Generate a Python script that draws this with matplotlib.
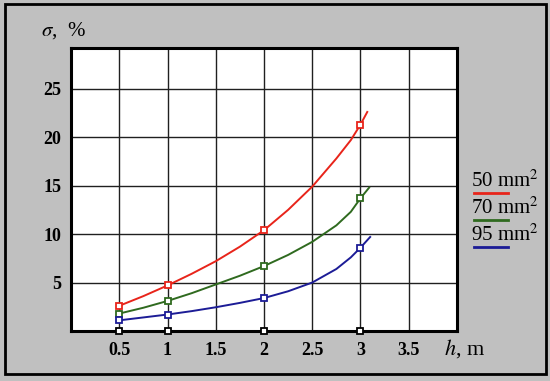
#!/usr/bin/env python3
"""Relative error sigma vs height h for three conductor cross-sections."""

import matplotlib
matplotlib.use("Agg")
import matplotlib.pyplot as plt
from matplotlib.patches import Rectangle

# ------------------------------------------------------------------ data
# measured points (square markers)
h_pts = [0.5, 1.0, 2.0, 3.0]
s50_pts = [2.6, 4.7, 10.4, 21.3]
s70_pts = [1.8, 3.1, 6.7, 13.7]
s95_pts = [1.1, 1.7, 3.4, 8.6]

# smooth curves
h50_curve = [0.5, 0.75, 1.0, 1.25, 1.5, 1.75, 2.0, 2.25, 2.5, 2.75, 2.9, 3.0, 3.07]
s50_curve = [2.6, 3.6, 4.7, 5.9, 7.2, 8.7, 10.4, 12.5, 14.9, 17.8, 19.7, 21.3, 22.6]
h70_curve = [0.5, 0.75, 1.0, 1.25, 1.5, 1.75, 2.0, 2.25, 2.5, 2.75, 2.9, 3.0, 3.09]
s70_curve = [1.8, 2.4, 3.1, 3.9, 4.8, 5.7, 6.7, 7.85, 9.2, 10.9, 12.3, 13.7, 14.8]
h95_curve = [0.5, 0.75, 1.0, 1.25, 1.5, 1.75, 2.0, 2.25, 2.5, 2.75, 2.9, 3.0, 3.1]
s95_curve = [1.1, 1.4, 1.7, 2.05, 2.45, 2.9, 3.4, 4.1, 5.0, 6.4, 7.6, 8.6, 9.7]

labels = ["50 mm$^2$", "70 mm$^2$", "95 mm$^2$"]
colors = ["#e8241a", "#2f6a1f", "#1c1c96"]

x_ticks = [0.5, 1, 1.5, 2, 2.5, 3, 3.5]
x_ticklabels = ["0.5", "1", "1.5", "2", "2.5", "3", "3.5"]
y_ticks = [5, 10, 15, 20, 25]

# ------------------------------------------------------------------ figure
plt.rcParams["font.family"] = ["Liberation Serif", "DejaVu Serif"]
plt.rcParams["mathtext.fontset"] = "stix"

W, H = 550, 381
fig = plt.figure(figsize=(W / 100, H / 100), dpi=100, facecolor="#c0c0c0")
fig.patches.append(Rectangle((5 / W, 1 - 374 / H), 541 / W, 370 / H,
                             transform=fig.transFigure, fill=False,
                             edgecolor="black", linewidth=2.0))

ax = fig.add_axes([71 / W, 1 - 331 / H, 386 / W, 283 / H])
ax.set_facecolor("white")
ax.set_xlim(0, 4.0)
ax.set_ylim(0, 29.2)
ax.set_xticks(x_ticks)
ax.set_xticklabels(x_ticklabels)
ax.set_yticks(y_ticks)
ax.grid(True, color="#202020", linewidth=1.0)
ax.set_axisbelow(True)
ax.tick_params(axis="x", length=0, pad=8, labelsize=13)
ax.tick_params(axis="y", length=0, pad=7, labelsize=13)
for lab in ax.get_xticklabels() + ax.get_yticklabels():
    lab.set_fontweight("bold")
for sp in ax.spines.values():
    sp.set_linewidth(2.2)

curves = [(h50_curve, s50_curve, s50_pts),
          (h70_curve, s70_curve, s70_pts),
          (h95_curve, s95_curve, s95_pts)]
for (hc, sc, sp_), col in zip(curves, colors):
    ax.plot(hc, sc, color=col, linewidth=1.4, zorder=3)
    ax.plot(h_pts, sp_, linestyle="none", marker="s", markersize=5,
            markerfacecolor="white", markeredgecolor=col,
            markeredgewidth=1.3, zorder=4)

# markers sitting on the h-axis
ax.plot(h_pts, [0] * len(h_pts), linestyle="none", marker="s", markersize=5,
        markerfacecolor="white", markeredgecolor="black",
        markeredgewidth=1.3, zorder=5, clip_on=False)

# axis titles
fig.text(41 / W, 1 - 31 / H, r"$\sigma$,  %", fontsize=15, va="center")
fig.text(444 / W, 1 - 349 / H, r"$h$, m", fontsize=16, va="center")

# legend: text with a coloured underline
for i, (lab, col) in enumerate(zip(labels, colors)):
    y_base = 187 + i * 27
    fig.text(471 / W, 1 - y_base / H, lab, fontsize=15, va="baseline")
    fig.add_artist(plt.Line2D([474 / W, 508 / W],
                              [1 - (y_base + 6) / H] * 2,
                              color=col, linewidth=2.0))

fig.savefig("out.png", dpi=100, facecolor=fig.get_facecolor())
